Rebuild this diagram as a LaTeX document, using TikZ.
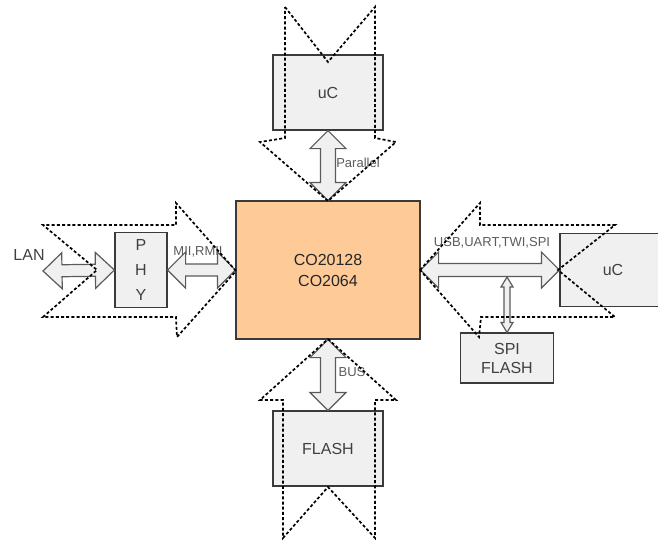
\documentclass[tikz,border=0pt]{standalone}
\usepackage{fontspec}
\setmainfont{Liberation Sans}
\usetikzlibrary{calc}
\definecolor{coreorange}{HTML}{FDCA98}
\definecolor{boxgray}{HTML}{F0F0F0}
\definecolor{edgegray}{HTML}{3A3A3A}
\definecolor{arrgray}{HTML}{5A5A5A}
\definecolor{txtgray}{HTML}{404040}
\tikzset{
  blk/.style={draw=edgegray, fill=boxgray, line width=1.2pt, inner sep=0pt, text=txtgray,
    font=\fontsize{16}{21}\selectfont, align=center},
  corebox/.style={blk, fill=coreorange, text=black!85},
  blockarr/.style={draw=arrgray, fill=boxgray, line width=1.2pt, line join=miter},
  smalllbl/.style={text=arrgray, font=\fontsize{13}{14}\selectfont, inner sep=0pt},
  dotline/.style={draw=black, line width=1.7pt, dash pattern=on 3pt off 2.2pt, line join=miter}
}
% #1 from, #2 to, #3 head length, #4 head half width, #5 shaft half width
\newcommand\dblarr[5]{%
  \draw[blockarr] (#1)
   -- ($(#1)!#3!(#2)!#4!90:(#2)$) -- ($(#1)!#3!(#2)!#5!90:(#2)$)
   -- ($(#2)!#3!(#1)!#5!-90:(#1)$) -- ($(#2)!#3!(#1)!#4!-90:(#1)$)
   -- (#2)
   -- ($(#2)!#3!(#1)!#4!90:(#1)$) -- ($(#2)!#3!(#1)!#5!90:(#1)$)
   -- ($(#1)!#3!(#2)!#5!-90:(#2)$) -- ($(#1)!#3!(#2)!#4!-90:(#2)$)
   -- cycle;}
\begin{document}
\begin{tikzpicture}[x=1pt,y=-1pt]
\useasboundingbox (0,0) rectangle (658,542);
\clip (0,0) rectangle (658,542);
% boxes
\node[corebox, minimum width=184pt, minimum height=138pt] (core) at (328,270) {CO20128\\CO2064};
\node[blk, minimum width=110pt, minimum height=75pt] (ucT) at (328,92.5) {uC};
\node[blk, minimum width=110pt, minimum height=75pt] (flash) at (328,448.5) {FLASH};
\node[blk, minimum width=52pt, minimum height=75pt, font=\fontsize{16}{25}\selectfont] (phy) at (141,270) {P\\H\\Y};
\node[blk, minimum width=106pt, minimum height=73pt] (ucR) at (613,270) {uC};
\node[blk, minimum width=93pt, minimum height=50pt, font=\fontsize{16}{19}\selectfont] (spiflash) at (507,358) {SPI\\FLASH};
\node[text=txtgray, font=\fontsize{16}{19}\selectfont, inner sep=0pt] (lan) at (29,255) {LAN};
\coordinate (lanend) at (43,271);
\coordinate (spitop) at (507,277);
% block arrows
\dblarr{lanend}{phy.west}{19pt}{18pt}{6pt}
\dblarr{phy.east}{core.west}{18pt}{18pt}{6pt}
\dblarr{ucT.south}{core.north}{18pt}{18pt}{7.5pt}
\dblarr{core.south}{flash.north}{18pt}{18pt}{7.5pt}
\dblarr{core.east}{ucR.west}{18pt}{18pt}{6.5pt}
\dblarr{spitop}{spiflash.north}{10pt}{6pt}{3pt}
% labels
\node[smalllbl] (lblpar) at (358,163) {Parallel};
\node[smalllbl] (lblbus) at (352,372) {BUS};
\node[smalllbl] (lblmii) at (198,252) {MII,RMII};
\node[smalllbl] (lblusb) at (492,243) {USB,UART,TWI,SPI};
% dotted notched arrows
\draw[dotline] (285,7) -- (328,62) -- (375,7) -- (375,138) -- (396,142) -- (328,201)
  -- (260,142) -- (285,138) -- cycle;
\draw[dotline] (328,339) -- (396,400) -- (375,400) -- (375,538) -- (328,487) -- (283,538)
  -- (283,400) -- (260,400) -- cycle;
\draw[dotline] (236,271) -- (176,203) -- (176,225) -- (43,225) -- (97,270) -- (43,317)
  -- (176,317) -- (177,337) -- cycle;
\draw[dotline] (420,270) -- (480,203) -- (480,225) -- (615,225) -- (558,270) -- (615,317)
  -- (481,317) -- (479,337) -- cycle;
\end{tikzpicture}
\end{document}
